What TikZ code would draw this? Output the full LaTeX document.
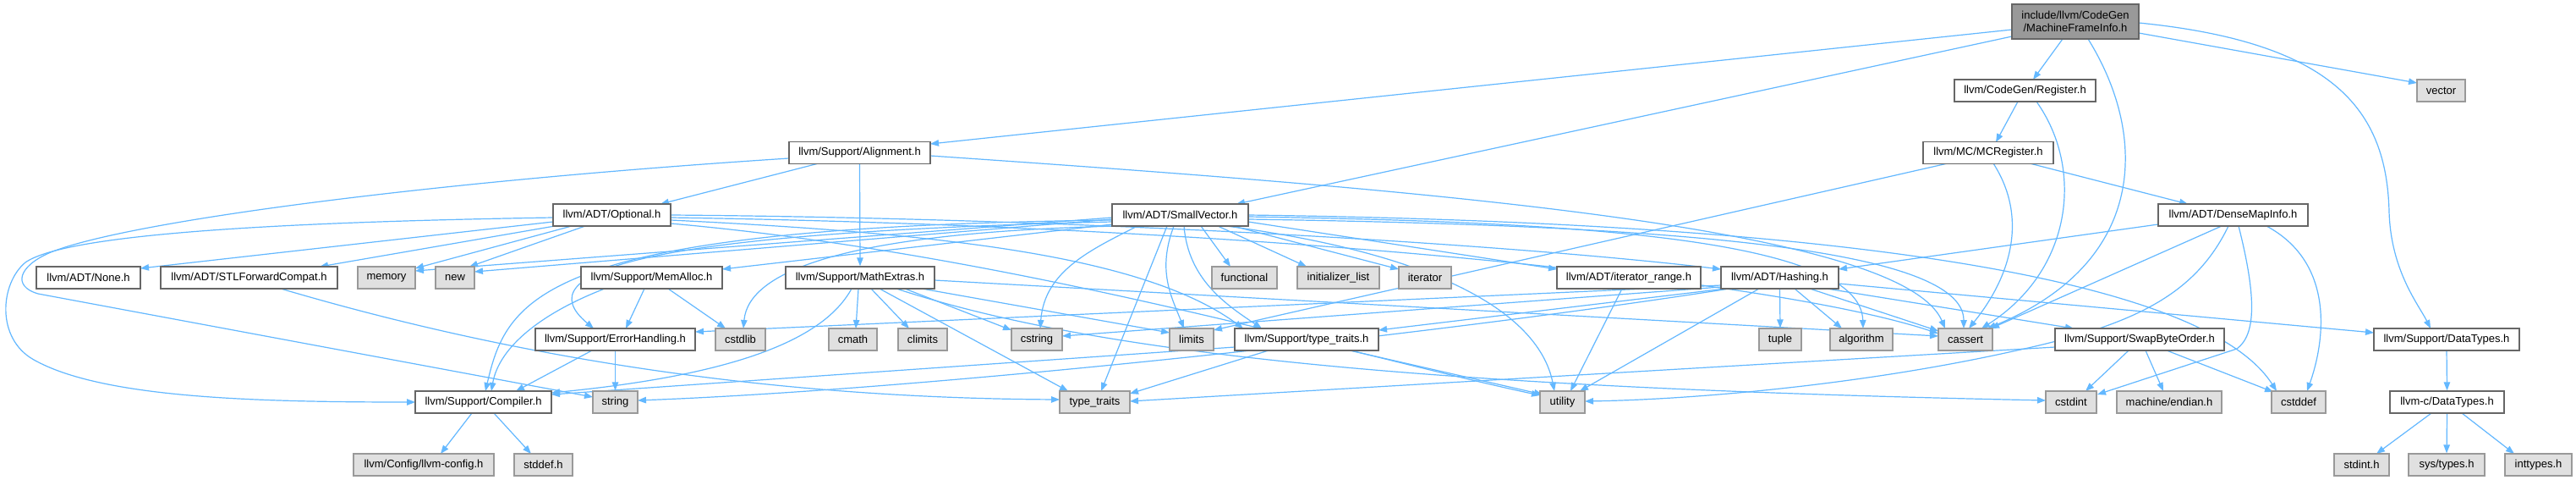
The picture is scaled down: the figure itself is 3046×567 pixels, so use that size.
\documentclass[tikz,border=0pt]{standalone}
\usepackage{fontspec}
\setmainfont{Liberation Sans}
\usetikzlibrary{arrows.meta,calc}
\definecolor{edgec}{HTML}{63B8FF}
\definecolor{bdark}{HTML}{666666}
\definecolor{blight}{HTML}{999999}
\definecolor{fext}{HTML}{E0E0E0}
\definecolor{fmain}{HTML}{999999}
\pgfdeclarelayer{bg}
\pgfdeclarelayer{paper}
\pgfsetlayers{paper,bg,main}
\begin{document}
\begin{tikzpicture}[x=1pt,y=-1pt,
 nb/.style={draw=bdark,fill=white,line width=1.3pt,minimum height=26pt,inner sep=0pt,font=\fontsize{13}{14.5}\selectfont},
 ext/.style={nb,draw=blight,fill=fext},
 topbox/.style={nb,fill=fmain,minimum height=41pt,align=center},
 e/.style={draw=edgec,line width=1.2pt,-{Triangle[length=10pt,width=7.5pt]}}]
\useasboundingbox (0,0) rectangle (3046,567);
\begin{pgfonlayer}{paper}
\fill[white] (0,0) rectangle (3046,567);
\end{pgfonlayer}
% row 0
\node[topbox,minimum width=150pt] (mfi) at (2454,25.5) {include/llvm/CodeGen\\/MachineFrameInfo.h};
% row 1
\node[nb,minimum width=167pt] (reg) at (2394.5,107) {llvm/CodeGen/Register.h};
\node[ext,minimum width=57pt] (vec) at (2886.5,107) {vector};
% row 2
\node[nb,minimum width=167pt] (align) at (1016.5,180.5) {llvm/Support/Alignment.h};
\node[nb,minimum width=154pt] (mcr) at (2351,180.5) {llvm/MC/MCRegister.h};
% row 3
\node[nb,minimum width=139pt] (opt) at (723.5,254) {llvm/ADT/Optional.h};
\node[nb,minimum width=161pt] (sv) at (1395.5,254) {llvm/ADT/SmallVector.h};
\node[nb,minimum width=177pt] (dmi) at (2640.5,254) {llvm/ADT/DenseMapInfo.h};
% row 4
\node[nb,minimum width=123pt] (none) at (104.5,328) {llvm/ADT/None.h};
\node[nb,minimum width=209pt] (stl) at (294.5,328) {llvm/ADT/STLForwardCompat.h};
\node[ext,minimum width=68pt] (mem) at (457,328) {memory};
\node[ext,minimum width=46pt] (newh) at (538,328) {new};
\node[nb,minimum width=167pt] (ma) at (770.5,328) {llvm/Support/MemAlloc.h};
\node[nb,minimum width=176pt] (me) at (1017,328) {llvm/Support/MathExtras.h};
\node[ext,minimum width=77pt] (func) at (1471.5,328) {functional};
\node[ext,minimum width=97pt] (init) at (1582.5,328) {initializer\_list};
\node[ext,minimum width=62pt] (iter) at (1685,328) {iterator};
\node[nb,minimum width=170pt] (itr) at (1926,328) {llvm/ADT/iterator\_range.h};
\node[nb,minimum width=139pt] (hash) at (2104.5,328) {llvm/ADT/Hashing.h};
% row 5
\node[nb,minimum width=189pt] (eh) at (727.5,401) {llvm/Support/ErrorHandling.h};
\node[ext,minimum width=59pt] (cstdlib) at (875.5,401) {cstdlib};
\node[ext,minimum width=57pt] (cmath) at (1008.5,401) {cmath};
\node[ext,minimum width=58pt] (climits) at (1091,401) {climits};
\node[ext,minimum width=60pt] (cstring) at (1226,401) {cstring};
\node[ext,minimum width=52pt] (limits) at (1409,401) {limits};
\node[nb,minimum width=170pt] (tth) at (1545,401) {llvm/Support/type\_traits.h};
\node[ext,minimum width=50pt] (tuple) at (2105,401) {tuple};
\node[ext,minimum width=74pt] (algo) at (2201,401) {algorithm};
\node[ext,minimum width=64pt] (cassert) at (2324,401) {cassert};
\node[nb,minimum width=200pt] (sbo) at (2530,401) {llvm/Support/SwapByteOrder.h};
\node[nb,minimum width=172pt] (dt) at (2893,401) {llvm/Support/DataTypes.h};
% row 6
\node[nb,minimum width=161pt] (comp) at (571.5,475) {llvm/Support/Compiler.h};
\node[ext,minimum width=53pt] (string) at (727.5,475) {string};
\node[ext,minimum width=83pt] (tt) at (1294.5,475) {type\_traits};
\node[ext,minimum width=53pt] (util) at (1847.5,475) {utility};
\node[ext,minimum width=60pt] (cstdint) at (2449,475) {cstdint};
\node[ext,minimum width=124pt] (endian) at (2565,475) {machine/endian.h};
\node[ext,minimum width=64pt] (cstddef) at (2718,475) {cstddef};
\node[nb,minimum width=135pt] (cdt) at (2893.5,475) {llvm-c/DataTypes.h};
% row 7
\node[ext,minimum width=166pt] (cfg) at (501,549) {llvm/Config/llvm-config.h};
\node[ext,minimum width=69pt] (stddef) at (642.5,549) {stddef.h};
\node[ext,minimum width=65pt] (stdint) at (2792.5,549) {stdint.h};
\node[ext,minimum width=90pt] (systypes) at (2893,549) {sys/types.h};
\node[ext,minimum width=79pt] (inttypes) at (3001.5,549) {inttypes.h};

\begin{pgfonlayer}{bg}
% MachineFrameInfo
\draw[e] ($(mfi)+(-75,9.5)$) -- ($(align)+(83.5,-10.5)$);
\draw[e] ($(mfi)+(-75,17.5)$) -- ($(sv)+(66.5,-13)$);
\draw[e] ($(mfi)+(-15,20.5)$) -- ($(reg)+(9.5,-13)$);
\draw[e] ($(mfi)+(15,20.5)$) .. controls (2540,160) and (2540,310) .. ($(cassert)+(26,-13)$);
\draw[e] ($(mfi)+(75,1.5)$) .. controls (2760,50) and (2822,130) .. (2825,250) .. controls (2827,320) and (2860,360) .. ($(dt)+(-19,-13)$);
\draw[e] ($(mfi)+(75,13.5)$) -- ($(vec)+(-28.5,-9)$);
% Register
\draw[e] ($(reg)+(-8.5,13)$) -- ($(mcr)+(9,-12.5)$);
\draw[e] ($(reg)+(13.5,13)$) .. controls (2465,200) and (2450,320) .. ($(cassert)+(19,-13)$);
% MCRegister
\draw[e] ($(mcr)+(49,12.5)$) -- ($(dmi)+(-53.5,-13)$);
\draw[e] ($(mcr)+(6,12.5)$) .. controls (2400,260) and (2375,330) .. ($(cassert)+(4,-13)$);
\draw[e] ($(mcr)+(-48,12.5)$) -- ($(limits)+(26,-11)$);
% DenseMapInfo
\draw[e] ($(dmi)+(-88.5,11)$) -- ($(hash)+(69.5,-10)$);
\draw[e] ($(dmi)+(-13.5,13)$) -- ($(cassert)+(30,-13)$);
\draw[e] ($(dmi)+(39.5,13)$) .. controls (2760,310) and (2750,400) .. ($(cstddef)+(10,-13)$);
\draw[e] ($(dmi)+(6.5,13)$) .. controls (2668,350) and (2668,395) .. (2645,412) -- ($(cstdint)+(31,-9)$);
\draw[e] ($(dmi)+(-5.5,13)$) .. controls (2595,350) and (2520,385) .. (2380,415) .. controls (2200,455) and (2000,472) .. ($(util)+(26.5,-1)$);
% Alignment
\draw[e] ($(align)+(-50.5,13)$) -- ($(opt)+(57.5,-13)$);
\draw[e] (align.south) -- (me.north);
\draw[e] ($(align)+(83.5,3.5)$) .. controls (1700,225) and (2250,270) .. ($(cassert)+(-24,-13)$);
\draw[e] ($(align)+(-83.5,6.5)$) .. controls (500,215) and (150,262) .. (60,298) .. controls (22,314) and (14,338) .. (45,347) -- ($(string)+(-26.5,-6)$);
% Optional
\draw[e] ($(opt)+(-69.5,8)$) -- ($(none)+(61.5,-11)$);
\draw[e] ($(opt)+(-67.5,13)$) -- ($(stl)+(83.5,-13)$);
\draw[e] ($(opt)+(-47.5,13)$) -- ($(mem)+(34,-11)$);
\draw[e] ($(opt)+(-31.5,13)$) -- ($(newh)+(17,-13)$);
\draw[e] ($(opt)+(-69.5,3)$) .. controls (350,262) and (80,275) .. (30,310) .. controls (0,335) and (-5,400) .. (40,425) .. controls (120,470) and (300,475) .. ($(comp)+(-80.5,0)$);
\draw[e] ($(opt)+(69.5,0)$) .. controls (1300,258) and (1800,290) .. ($(hash)+(-69.5,-10)$);
\draw[e] ($(opt)+(69.5,6)$) .. controls (1100,275) and (1350,300) .. ($(tth)+(-75,-13)$);
\draw[e] ($(opt)+(69.5,3)$) .. controls (1500,268) and (2100,330) .. ($(cassert)+(-32,-7)$);
\draw[e] ($(opt)+(69.5,10)$) .. controls (1200,300) and (1600,420) .. ($(util)+(-26.5,-8)$);
% SmallVector
\draw[e] ($(sv)+(-80.5,11)$) -- ($(ma)+(83.5,-10)$);
\draw[e] ($(sv)+(-80.5,3)$) -- ($(mem)+(34,-8)$);
\draw[e] ($(sv)+(-80.5,5)$) -- ($(newh)+(23,-7)$);
\draw[e] ($(sv)+(-80.5,8)$) .. controls (760,275) and (620,320) .. ($(eh)+(-25.5,-13)$);
\draw[e] ($(sv)+(-80.5,6)$) .. controls (640,268) and (600,350) .. ($(comp)+(2.5,-13)$);
\draw[e] ($(sv)+(-75.5,13)$) .. controls (1000,275) and (885,320) .. ($(cstdlib)+(3.5,-13)$);
\draw[e] ($(sv)+(-50.5,13)$) .. controls (1290,295) and (1235,320) .. ($(cstring)+(4,-13)$);
\draw[e] ($(sv)+(-15.5,13)$) -- ($(tt)+(7.5,-13)$);
\draw[e] ($(sv)+(-7.5,13)$) .. controls (1368,320) and (1385,350) .. ($(limits)+(-9,-13)$);
\draw[e] ($(sv)+(4.5,13)$) .. controls (1405,330) and (1450,360) .. ($(tth)+(-53,-13)$);
\draw[e] ($(sv)+(24.5,13)$) -- ($(func)+(-16.5,-13)$);
\draw[e] ($(sv)+(44.5,13)$) -- ($(init)+(-37.5,-13)$);
\draw[e] ($(sv)+(62.5,13)$) -- ($(iter)+(-31,-10)$);
\draw[e] ($(sv)+(80.5,8)$) -- ($(itr)+(-85,-10)$);
\draw[e] ($(sv)+(54.5,13)$) .. controls (1700,300) and (1820,370) .. ($(util)+(-9.5,-13)$);
\draw[e] ($(sv)+(80.5,2)$) .. controls (1850,262) and (2200,280) .. ($(algo)+(2,-13)$);
\draw[e] ($(sv)+(80.5,5)$) .. controls (1950,266) and (2322,290) .. ($(cassert)+(-2,-13)$);
\draw[e] ($(sv)+(80.5,0)$) .. controls (2300,265) and (2620,350) .. ($(cstddef)+(-26,-13)$);
% MemAlloc
\draw[e] ($(ma)+(-55.5,13)$) .. controls (640,370) and (590,410) .. ($(comp)+(9.5,-13)$);
\draw[e] ($(ma)+(-8.5,13)$) -- ($(eh)+(12.5,-13)$);
\draw[e] ($(ma)+(19.5,13)$) -- ($(cstdlib)+(-17.5,-13)$);
% MathExtras
\draw[e] ($(me)+(-2,13)$) -- ($(cmath)+(3.5,-13)$);
\draw[e] ($(me)+(13,13)$) -- ($(climits)+(-16,-13)$);
\draw[e] ($(me)+(-10,13)$) .. controls (980,390) and (900,440) .. ($(comp)+(80.5,-11)$);
\draw[e] ($(me)+(53,13)$) -- ($(cstring)+(-30,-11)$);
\draw[e] ($(me)+(23,13)$) -- ($(tt)+(-31.5,-13)$);
\draw[e] ($(me)+(73,13)$) -- ($(limits)+(-26,-8)$);
\draw[e] ($(me)+(88,3)$) -- ($(cassert)+(-32,-4)$);
\draw[e] ($(me)+(43,13)$) .. controls (1300,420) and (1700,458) .. ($(cstdint)+(-30,-2)$);
% Hashing
\draw[e] (hash.south) -- (tuple.north);
\draw[e] ($(hash)+(17.5,13)$) -- ($(algo)+(-23,-13)$);
\draw[e] ($(hash)+(35.5,13)$) -- ($(cassert)+(-32,-10)$);
\draw[e] ($(hash)+(55.5,13)$) -- ($(sbo)+(-78,-13)$);
\draw[e] ($(hash)+(69.5,7)$) -- ($(dt)+(-86,-8)$);
\draw[e] ($(hash)+(-69.5,9)$) -- ($(eh)+(94.5,-9)$);
\draw[e] ($(hash)+(-69.5,11)$) -- ($(cstring)+(30,-4)$);
\draw[e] ($(hash)+(-59.5,13)$) .. controls (1700,395) and (1100,460) .. ($(string)+(26.5,-2)$);
\draw[e] ($(hash)+(-64.5,13)$) -- ($(tth)+(85,-11)$);
\draw[e] ($(hash)+(-24.5,13)$) -- ($(util)+(20.5,-13)$);
% ErrorHandling
\draw[e] ($(eh)+(-27.5,13)$) -- ($(comp)+(38.5,-13)$);
\draw[e] (eh.south) -- (string.north);
% type_traits.h
\draw[e] ($(tth)+(-85,9)$) -- ($(comp)+(80.5,-9)$);
\draw[e] ($(tth)+(-45,13)$) -- ($(tt)+(41.5,-10)$);
\draw[e] ($(tth)+(51,13)$) -- ($(util)+(-23.5,-9)$);
% STLForwardCompat
\draw[e] ($(stl)+(37.5,13)$) .. controls (600,420) and (900,470) .. ($(tt)+(-41.5,-3)$);
% iterator_range
\draw[e] ($(itr)+(-8,13)$) -- ($(util)+(9.5,-13)$);
% SwapByteOrder
\draw[e] ($(sbo)+(-13,13)$) -- ($(cstdint)+(17,-13)$);
\draw[e] ($(sbo)+(7,13)$) -- ($(endian)+(-7,-13)$);
\draw[e] ($(sbo)+(32,13)$) -- ($(cstddef)+(-30,-12)$);
\draw[e] ($(sbo)+(-100,9)$) -- ($(tt)+(41.5,-1)$);
% DataTypes
\draw[e] (dt.south) -- (cdt.north);
\draw[e] ($(cdt)+(-18.5,13)$) -- ($(stdint)+(17.5,-13)$);
\draw[e] (cdt.south) -- (systypes.north);
\draw[e] ($(cdt)+(17.5,13)$) -- ($(inttypes)+(-28.5,-13)$);
% Compiler
\draw[e] ($(comp)+(-13.5,13)$) -- ($(cfg)+(20,-13)$);
\draw[e] ($(comp)+(12.5,13)$) -- ($(stddef)+(-14.5,-13)$);
\end{pgfonlayer}
\end{tikzpicture}
\end{document}
